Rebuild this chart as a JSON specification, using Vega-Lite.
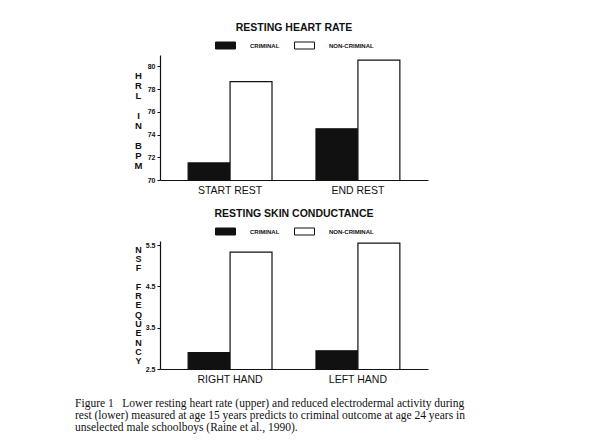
{
  "$schema": "https://vega.github.io/schema/vega-lite/v6.json",
  "background": "white",
  "padding": {"left": 75, "top": 22, "right": 10, "bottom": 5},
  "datasets": {
    "hr": [
      {"phase": "START REST", "group": "CRIMINAL", "value": 71.5},
      {"phase": "START REST", "group": "NON-CRIMINAL", "value": 78.65},
      {"phase": "END REST", "group": "CRIMINAL", "value": 74.5},
      {"phase": "END REST", "group": "NON-CRIMINAL", "value": 80.55}
    ],
    "sc": [
      {"hand": "RIGHT HAND", "group": "CRIMINAL", "value": 2.9},
      {"hand": "RIGHT HAND", "group": "NON-CRIMINAL", "value": 5.33},
      {"hand": "LEFT HAND", "group": "CRIMINAL", "value": 2.94},
      {"hand": "LEFT HAND", "group": "NON-CRIMINAL", "value": 5.55}
    ]
  },
  "title": {
    "text": [
      "Figure 1\u00a0\u00a0\u00a0Lower resting heart rate (upper) and reduced electrodermal activity during",
      "rest (lower) measured at age 15 years predicts to criminal outcome at age 24 years in",
      "unselected male schoolboys (Raine et al., 1990)."
    ],
    "orient": "bottom",
    "anchor": "start",
    "frame": "bounds",
    "dx": -59,
    "offset": 13,
    "font": "Liberation Serif",
    "fontSize": 11.5,
    "fontWeight": "normal",
    "lineHeight": 12,
    "color": "#111"
  },
  "vconcat": [
    {
      "data": {"name": "hr"},
      "width": 268,
      "height": 125,
      "title": {"text": "RESTING HEART RATE", "anchor": "middle", "font": "Liberation Sans", "fontSize": 10.5, "fontWeight": "bold", "offset": 2},
      "mark": {"type": "bar", "stroke": "#111", "strokeWidth": 1.2, "clip": true},
      "encoding": {
        "x": {
          "field": "phase", "type": "nominal", "sort": ["START REST", "END REST"],
          "scale": {"paddingInner": 0.344, "paddingOuter": 0.22},
          "axis": {"title": null, "labelAngle": 0, "ticks": false, "labelFontSize": 10.5, "labelFontWeight": "normal", "labelPadding": 5}
        },
        "xOffset": {"field": "group", "type": "nominal", "sort": ["CRIMINAL", "NON-CRIMINAL"], "scale": {"paddingInner": 0, "paddingOuter": 0}},
        "y": {
          "field": "value", "type": "quantitative",
          "scale": {"domain": [70, 81], "zero": false, "nice": false},
          "axis": {
            "values": [70, 72, 74, 76, 78, 80],
            "title": ["H", "R", "L", "\u200b", "I", "N", "\u200b", "B", "P", "M"],
            "titleAngle": 0, "titleAlign": "center", "titleBaseline": "top",
            "titleLineHeight": 10, "titleFontSize": 9.5, "titleX": -22, "titleY": 15
          }
        },
        "fill": {
          "field": "group", "type": "nominal",
          "scale": {"domain": ["CRIMINAL", "NON-CRIMINAL"], "range": ["#111111", "#ffffff"]},
          "legend": {"orient": "top", "direction": "horizontal", "title": null}
        }
      }
    },
    {
      "data": {"name": "sc"},
      "width": 268,
      "height": 128,
      "title": {"text": "RESTING SKIN CONDUCTANCE", "anchor": "middle", "font": "Liberation Sans", "fontSize": 10.5, "fontWeight": "bold", "offset": 2},
      "mark": {"type": "bar", "stroke": "#111", "strokeWidth": 1.2, "clip": true},
      "encoding": {
        "x": {
          "field": "hand", "type": "nominal", "sort": ["RIGHT HAND", "LEFT HAND"],
          "scale": {"paddingInner": 0.344, "paddingOuter": 0.22},
          "axis": {"title": null, "labelAngle": 0, "ticks": false, "labelFontSize": 10.5, "labelFontWeight": "normal", "labelPadding": 5}
        },
        "xOffset": {"field": "group", "type": "nominal", "sort": ["CRIMINAL", "NON-CRIMINAL"], "scale": {"paddingInner": 0, "paddingOuter": 0}},
        "y": {
          "field": "value", "type": "quantitative",
          "scale": {"domain": [2.5, 5.6], "zero": false, "nice": false},
          "axis": {
            "values": [2.5, 3.5, 4.5, 5.5], "format": ".1f",
            "title": ["N", "S", "F", "\u200b", "F", "R", "E", "Q", "U", "E", "N", "C", "Y"],
            "titleAngle": 0, "titleAlign": "center", "titleBaseline": "top",
            "titleLineHeight": 9.3, "titleFontSize": 9, "titleX": -22, "titleY": 4
          }
        },
        "fill": {
          "field": "group", "type": "nominal",
          "scale": {"domain": ["CRIMINAL", "NON-CRIMINAL"], "range": ["#111111", "#ffffff"]},
          "legend": {"orient": "top", "direction": "horizontal", "title": null}
        }
      }
    }
  ],
  "spacing": 12,
  "resolve": {"scale": {"fill": "independent"}, "legend": {"fill": "independent"}},
  "config": {
    "font": "Liberation Sans",
    "view": {"stroke": null},
    "axis": {
      "domainColor": "#111", "domainWidth": 1.2, "tickColor": "#111", "tickSize": 3,
      "labelColor": "#111", "titleColor": "#111", "grid": false,
      "labelFont": "Liberation Sans", "titleFont": "Liberation Sans",
      "labelFontSize": 7, "labelFontWeight": "bold", "titleFontSize": 10, "titleFontWeight": "bold"
    },
    "legend": {
      "symbolType": "M-1,-0.35H1V0.35H-1Z",
      "symbolSize": 400,
      "symbolStrokeColor": "#111",
      "symbolStrokeWidth": 1,
      "labelFontSize": 6,
      "labelFontWeight": "bold",
      "labelColor": "#111",
      "columnPadding": 12,
      "labelOffset": 14,
      "offset": 4,
      "padding": 0,
      "layout": {"top": {"anchor": "middle"}}
    },
    "title": {"color": "#111"}
  }
}
